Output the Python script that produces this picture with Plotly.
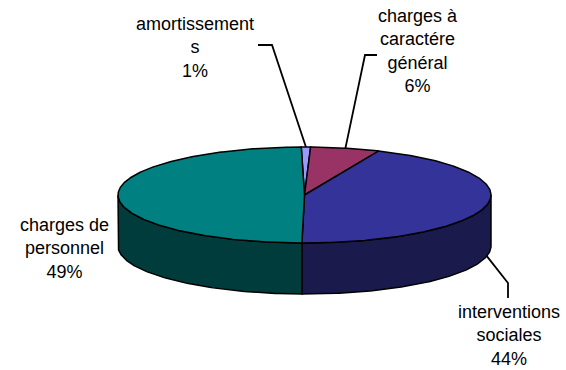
import numpy as np
import plotly.graph_objects as go

# ---- data ----
categories = ["amortissements", "charges à caractére général", "interventions sociales", "charges de personnel"]
label_texts = ["amortissement<br>s<br>1%", "charges à<br>caractére<br>général<br>6%",
               "interventions<br>sociales<br>44%", "charges de<br>personnel<br>49%"]
values = [0.8, 6.0, 43.7, 49.5]

# ---- styles ----
top_colors = ["#9999FF", "#993366", "#333399", "#008080"]
side_colors = ["#4D4D80", "#4D1A33", "#1A1A4D", "#003C3C"]
W, H = 566, 370
cx, cy, rx, ry, depth = 304.5, 195.0, 186.5, 48.0, 51.0
start_deg = -1.0

def pt(theta_deg, dy=0.0):
    t = np.radians(theta_deg)
    return cx + rx * np.sin(t), cy - ry * np.cos(t) + dy

fig = go.Figure()
total = sum(values)
angles = []
acc = start_deg
for v in values:
    a = acc
    b = acc + 360.0 * v / total
    angles.append((a, b))
    acc = b

# side faces (front half: 90..270 deg)
for (a, b), col in zip(angles, side_colors):
    for shift in (0, 360, -360):
        lo, hi = max(a + shift, 90), min(b + shift, 270)
        if hi > lo:
            th = np.linspace(lo, hi, 120)
            xs_t, ys_t = pt(th)
            xs_b, ys_b = pt(th[::-1], depth)
            xs = np.concatenate([xs_t, xs_b, xs_t[:1]])
            ys = np.concatenate([ys_t, ys_b, ys_t[:1]])
            fig.add_trace(go.Scatter(x=xs, y=ys, mode="lines", fill="toself", fillcolor=col,
                                     line=dict(color="black", width=1.5), hoverinfo="skip", showlegend=False))

# top faces
for (a, b), col, name in zip(angles, top_colors, categories):
    th = np.linspace(a, b, max(4, int((b - a) * 2)))
    xs_a, ys_a = pt(th)
    xs = np.concatenate([[cx], xs_a, [cx]])
    ys = np.concatenate([[cy], ys_a, [cy]])
    fig.add_trace(go.Scatter(x=xs, y=ys, mode="lines", fill="toself", fillcolor=col,
                             line=dict(color="black", width=1.5), name=name, showlegend=False,
                             hoverinfo="name"))

# labels and leader lines
label_pos = [(195, 47), (418, 51), (509, 335), (64, 248)]
leader_elbows = [[(258, 45), (272, 45)], [(377, 55), (365, 55)], [(508, 298), (508, 283)], None]
for i, ((a, b), txt, (lx, ly)) in enumerate(zip(angles, label_texts, label_pos)):
    mid = (a + b) / 2
    if leader_elbows[i] is not None:
        ax_, ay_ = pt(mid)
        if 90 < mid < 270:
            ax_, ay_ = pt(mid, depth)
        xs = [p[0] for p in leader_elbows[i]] + [ax_]
        ys = [p[1] for p in leader_elbows[i]] + [ay_]
        fig.add_trace(go.Scatter(x=xs, y=ys, mode="lines", line=dict(color="black", width=1.8),
                                 hoverinfo="skip", showlegend=False))
    fig.add_annotation(x=lx, y=ly, text=txt, showarrow=False, xanchor="center", yanchor="middle",
                       font=dict(family="Liberation Sans, Arial, sans-serif", size=18, color="black"))

fig.update_layout(width=W, height=H, margin=dict(l=0, r=0, t=0, b=0),
                  paper_bgcolor="white", plot_bgcolor="white",
                  xaxis=dict(range=[0, W], visible=False, fixedrange=True),
                  yaxis=dict(range=[H, 0], visible=False, fixedrange=True))
fig.write_html("out.html")
